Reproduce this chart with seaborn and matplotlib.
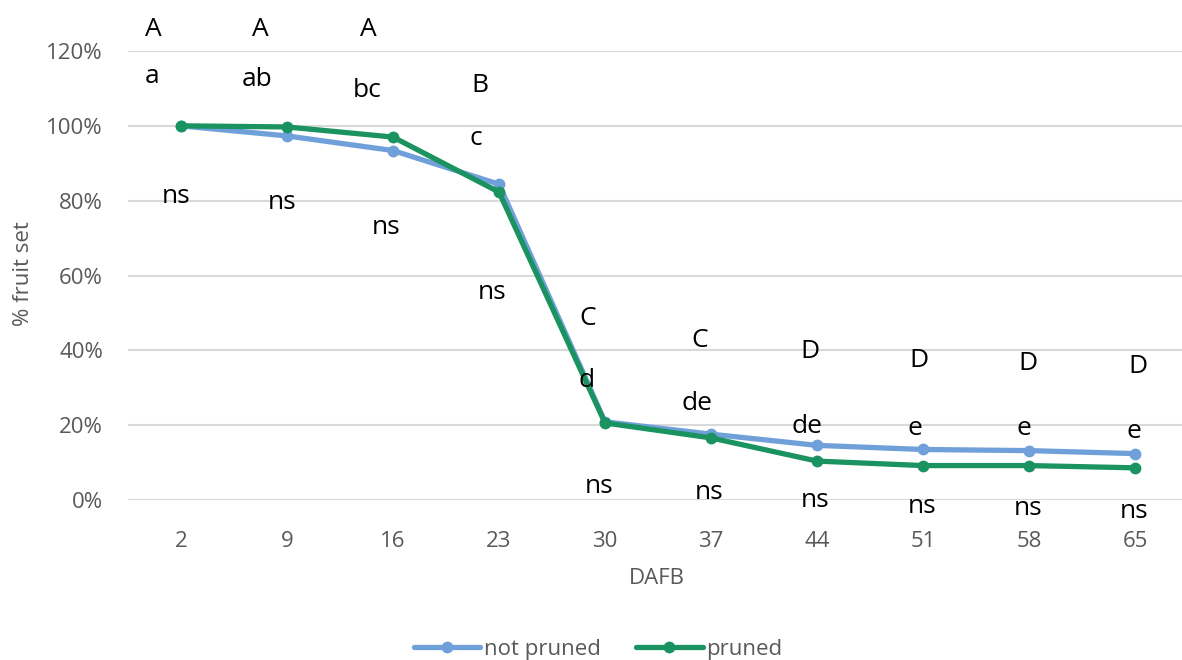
import matplotlib
matplotlib.use("Agg")
import matplotlib.pyplot as plt
import seaborn as sns
import pandas as pd
import numpy as np

# Days after full bloom and fruit set (%) per treatment
dafb = ["2", "9", "16", "23", "30", "37", "44", "51", "58", "65"]
not_pruned = [100.0, 97.3, 93.4, 84.4, 20.9, 17.6, 14.6, 13.5, 13.2, 12.4]
pruned = [100.0, 99.7, 97.0, 82.3, 20.6, 16.6, 10.4, 9.2, 9.2, 8.6]

# Significance letters
upper_letters = ["A", "A", "A", "B", "C", "C", "D", "D", "D", "D"]
lower_letters = ["a", "ab", "bc", "c", "d", "de", "de", "e", "e", "e"]
ns_letters = ["ns"] * 10

# Label placement (category index, baseline in % units)
upper_x = [-0.264, 0.745, 1.764, 2.821, 3.840, 4.896, 5.934, 6.962, 7.991, 9.028]
upper_y = [124.0, 124.0, 124.0, 109.0, 46.8, 40.9, 37.9, 35.5, 34.7, 33.9]
lower_x = [-0.274, 0.717, 1.755, 2.783, 3.830, 4.868, 5.906, 6.925, 7.953, 8.991]
lower_y = [111.4, 110.6, 107.7, 94.9, 30.2, 24.1, 17.9, 17.4, 17.4, 16.6]
ns_x = [-0.047, 0.953, 1.934, 2.934, 3.943, 4.981, 5.981, 6.991, 7.991, 8.991]
ns_y = [79.4, 77.8, 71.1, 53.7, 1.9, 0.3, -1.9, -3.5, -4.0, -4.8]

sns.set_theme(style="white")
plt.rcParams["font.family"] = ["Open Sans", "DejaVu Sans"]

idx = np.arange(len(dafb))
df = pd.DataFrame({
    "pos": np.concatenate([idx, idx]),
    "value": not_pruned + pruned,
    "treatment": ["not pruned"] * len(dafb) + ["pruned"] * len(dafb),
})

blue = "#6FA0DA"
green = "#1A9360"
gray = "#595959"

fig = plt.figure(figsize=(11.82, 6.6), dpi=100)
ax = fig.add_axes([128 / 1182, 160 / 660, (1188 - 128) / 1182, 449 / 660])

sns.lineplot(data=df, x="pos", y="value", hue="treatment",
             palette={"not pruned": blue, "pruned": green},
             marker="o", markersize=8.5, markeredgewidth=0,
             linewidth=3.8, ax=ax, legend=True)

ax.set_xlim(-0.5, 9.5)
ax.set_ylim(0, 120)
ax.set_yticks(np.arange(0, 121, 20))
ax.set_yticklabels([f"{v}%" for v in range(0, 121, 20)])
ax.set_xticks(idx)
ax.set_xticklabels(dafb)
ax.tick_params(axis="both", colors=gray, labelsize=16, length=0)
ax.tick_params(axis="x", pad=22)
ax.tick_params(axis="y", pad=18)
ax.grid(axis="y", color="#d9d9d9", linewidth=1.5)
ax.set_axisbelow(True)
for s in ax.spines.values():
    s.set_visible(False)

ax.set_xlabel("DAFB", color=gray, fontsize=16)
ax.set_ylabel("% fruit set", color=gray, fontsize=16)
ax.xaxis.set_label_coords(529 / 1060, -68 / 449)
ax.yaxis.set_label_coords(-0.089, 0.505)

for xs, ys, labels in ((upper_x, upper_y, upper_letters),
                       (lower_x, lower_y, lower_letters),
                       (ns_x, ns_y, ns_letters)):
    for x, y, t in zip(xs, ys, labels):
        ax.text(x, y, t, ha="center", va="baseline", fontsize=19,
                color="black", clip_on=False)

handles, labels = ax.get_legend_handles_labels()
ax.legend(handles, labels, loc="center", bbox_to_anchor=(598 / 1182, 11 / 660),
          bbox_transform=fig.transFigure, ncol=2, frameon=False,
          fontsize=16, labelcolor=gray, handlelength=3.0, handletextpad=0.15,
          columnspacing=1.6)

fig.savefig("out.png", dpi=100)
